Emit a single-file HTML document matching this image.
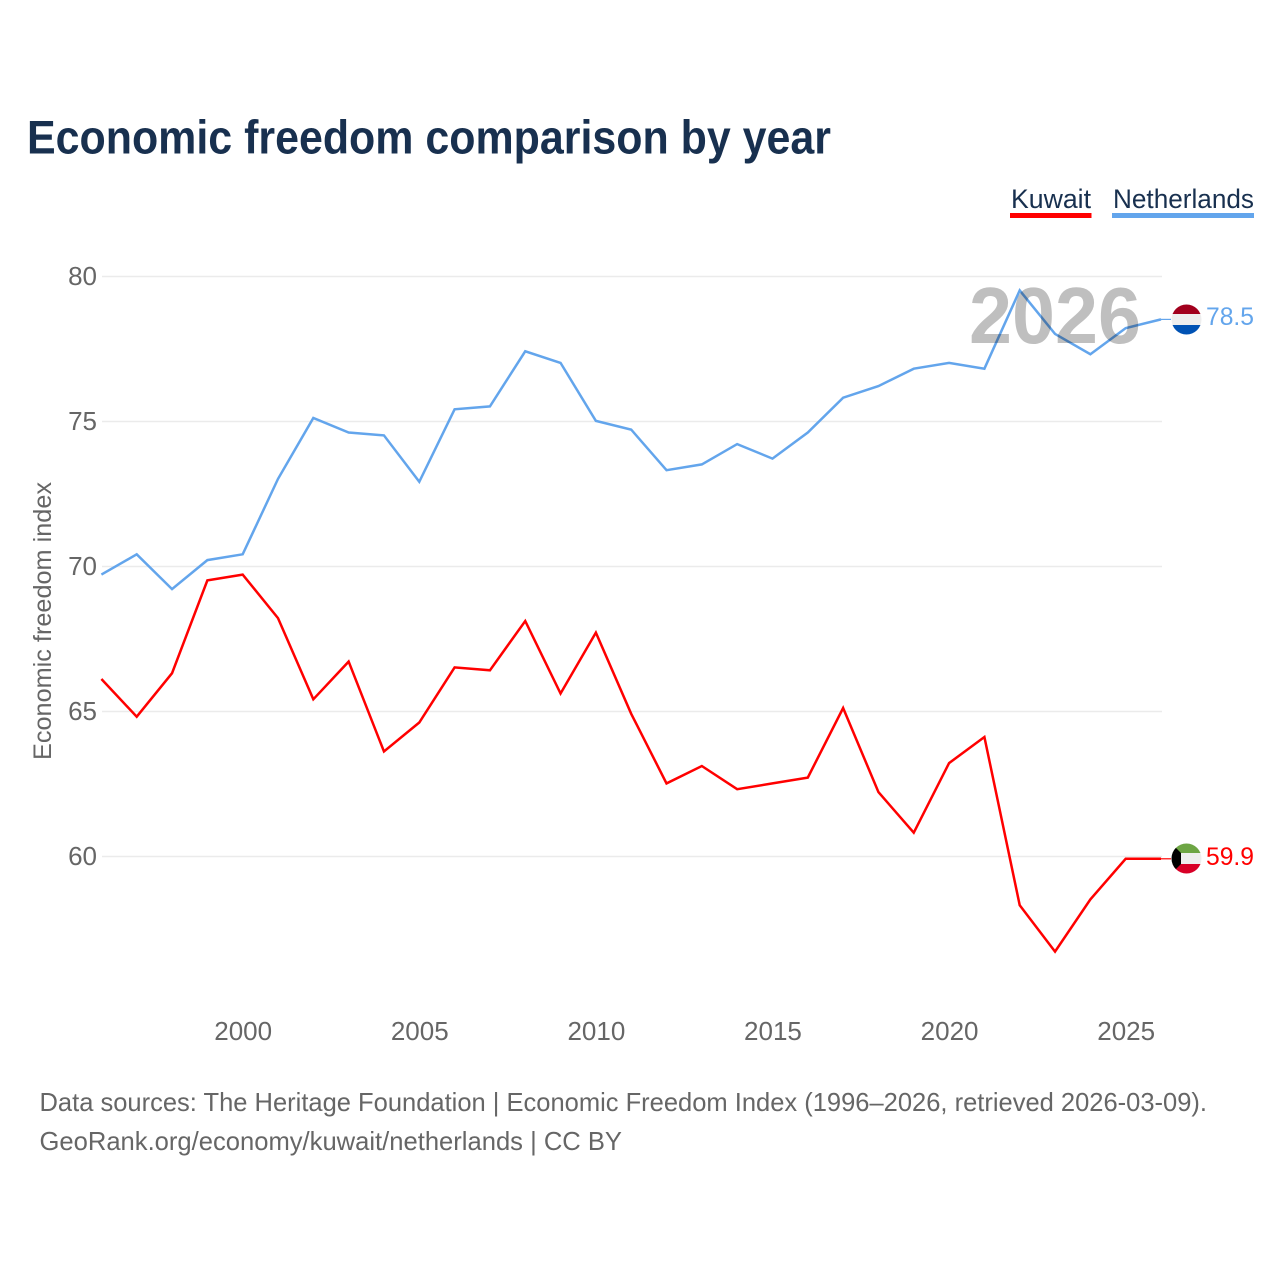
<!DOCTYPE html>
<html lang="en">
<head>
<meta charset="utf-8">
<title>Economic freedom comparison by year</title>
<style>
html,body{margin:0;padding:0;background:#fff;}
svg{display:block;}
text{font-family:"Liberation Sans",sans-serif;}
</style>
</head>
<body>
<svg id="chart" xmlns="http://www.w3.org/2000/svg" width="1280" height="1280" viewBox="0 0 1280 1280">
  <rect width="1280" height="1280" fill="#ffffff"/>
  <text x="27" y="153.5" font-size="47" font-weight="700" fill="#18304f" textLength="804" lengthAdjust="spacingAndGlyphs">Economic freedom comparison by year</text>

  <g>
    <text x="1011" y="208" font-size="27" fill="#18304f" textLength="80" lengthAdjust="spacingAndGlyphs">Kuwait</text>
    <rect x="1010" y="213" width="81.500" height="5" fill="#ff0000"/>
  </g>
  <g>
    <text x="1113" y="208" font-size="27" fill="#18304f" textLength="141" lengthAdjust="spacingAndGlyphs">Netherlands</text>
    <rect x="1112" y="213" width="142" height="5" fill="#63a5ec"/>
  </g>

  <g id="grid"></g>
  <g id="yTicks"></g>
  <g id="xTicks"></g>
  <text transform="translate(51,760) rotate(-90)" font-size="25" fill="#666666" textLength="278" lengthAdjust="spacingAndGlyphs">Economic freedom index</text>

  <g id="series"></g>
  <text x="969" y="343" font-size="80" font-weight="700" fill="#000000" fill-opacity="0.25" textLength="172" lengthAdjust="spacingAndGlyphs">2026</text>

  <defs>
    <clipPath id="clipNl"><circle cx="1186.500" cy="319.500" r="15"/></clipPath>
    <clipPath id="clipKw"><circle cx="1186.500" cy="858.500" r="15"/></clipPath>
  </defs>
  <g clip-path="url(#clipNl)">
    <rect x="1170" y="303" width="33" height="11" fill="#a2001d"/>
    <rect x="1170" y="314" width="33" height="11" fill="#eeeeee"/>
    <rect x="1170" y="325" width="33" height="12" fill="#0052b4"/>
  </g>
  <g clip-path="url(#clipKw)">
    <rect x="1170" y="842" width="33" height="11" fill="#6da544"/>
    <rect x="1170" y="853" width="33" height="11" fill="#eeeeee"/>
    <rect x="1170" y="864" width="33" height="11" fill="#d80027"/>
    <path d="M1170 842L1181 853V864L1170 875Z" fill="#000000"/>
  </g>
  <text x="1206" y="325" font-size="25" fill="#63a5ec" textLength="48" lengthAdjust="spacingAndGlyphs">78.5</text>
  <text x="1206" y="865" font-size="25" fill="#ff0000" textLength="48" lengthAdjust="spacingAndGlyphs">59.9</text>

  <text x="39.500" y="1111" font-size="26" fill="#666666" textLength="1167.500" lengthAdjust="spacingAndGlyphs">Data sources: The Heritage Foundation | Economic Freedom Index (1996–2026, retrieved 2026-03-09).</text>
  <text x="39.500" y="1150" font-size="26" fill="#666666" textLength="582.500" lengthAdjust="spacingAndGlyphs">GeoRank.org/economy/kuwait/netherlands | CC BY</text>
</svg>
<script>
const years = [1996,1997,1998,1999,2000,2001,2002,2003,2004,2005,2006,2007,2008,2009,2010,2011,2012,2013,2014,2015,2016,2017,2018,2019,2020,2021,2022,2023,2024,2025,2026];
const kuwait = [66.1,64.8,66.3,69.5,69.7,68.2,65.4,66.7,63.6,64.6,66.5,66.4,68.1,65.6,67.7,64.9,62.5,63.1,62.3,62.5,62.7,65.1,62.2,60.8,63.2,64.1,58.3,56.7,58.5,59.9,59.9];
const netherlands = [69.7,70.4,69.2,70.2,70.4,73.0,75.1,74.6,74.5,72.9,75.4,75.5,77.4,77.0,75.0,74.7,73.3,73.5,74.2,73.7,74.6,75.8,76.2,76.8,77.0,76.8,79.5,78.0,77.3,78.2,78.5];
const yTickValues = [60,65,70,75,80];
const xTickValues = [2000,2005,2010,2015,2020,2025];

const NS = 'http://www.w3.org/2000/svg';
function xScale(year){ return 101.4 + (year - 1996) * (1161 - 101.4) / 30; }
function yScale(value){ return 856.5 - (value - 60) * (856.5 - 276.5) / 20; }
function make(tag, attrs, parent){
  const el = document.createElementNS(NS, tag);
  for (const k in attrs) el.setAttribute(k, attrs[k]);
  parent.appendChild(el);
  return el;
}
const grid = document.getElementById('grid');
const yTicks = document.getElementById('yTicks');
const xTicks = document.getElementById('xTicks');
const series = document.getElementById('series');

yTickValues.forEach(function(v){
  const line = make('line', {x1:102, x2:1162, y1:yScale(v), y2:yScale(v), stroke:'#ebebeb', 'stroke-width':1.6}, grid);
  
  
  const t = make('text', {x:97, y:yScale(v)+8.5, 'text-anchor':'end', 'font-size':26, fill:'#666666'}, yTicks);
  t.textContent = v;
  
  
});
xTickValues.forEach(function(y){
  const t = make('text', {x:xScale(y)+0.5, y:1040, 'text-anchor':'middle', 'font-size':26, fill:'#666666'}, xTicks);
  t.textContent = y;
  
  
});
function points(values){
  return values.map(function(v,i){ return xScale(years[i]).toFixed(2) + ',' + (yScale(v)-0.6).toFixed(2); }).join(' ');
}
function drawSeries(values, color, name){
  const line = make('polyline', {points:points(values), fill:'none', stroke:color, 'stroke-width':2.5, 'stroke-linejoin':'miter'}, series);
  
  
  const last = values[values.length-1];
  const lead = make('line', {x1:xScale(years[years.length-1]), x2:1171, y1:yScale(last)-0.6, y2:yScale(last)-0.6, stroke:color, 'stroke-width':1.2}, series);
  
  
}
drawSeries(netherlands, '#63a5ec', 'line-netherlands');
drawSeries(kuwait, '#ff0000', 'line-kuwait');
</script>
</body>
</html>
